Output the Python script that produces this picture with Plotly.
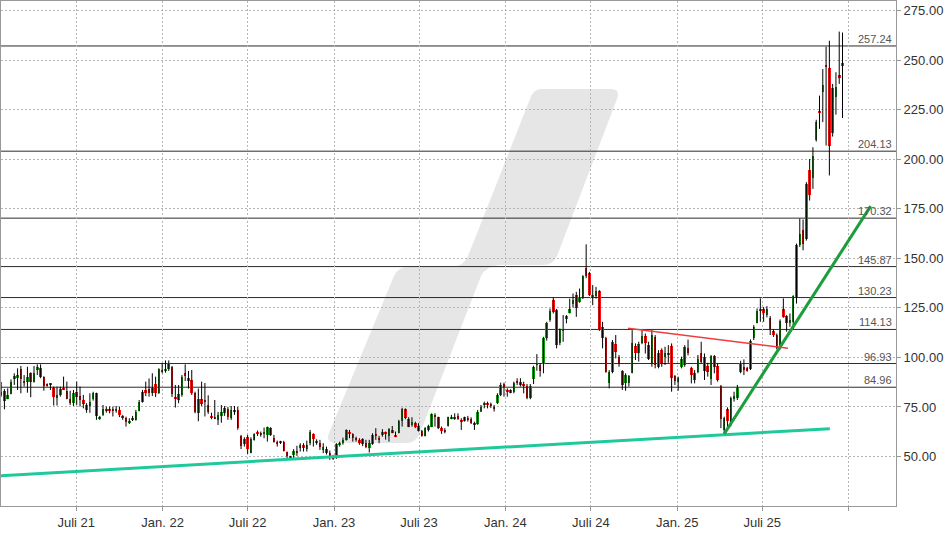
import pandas as pd
import plotly.graph_objects as go

# ---------------- data (weekly candles) ----------------
first_week = "2021-01-22"
open_ = [81.4,83.1,79.2,81.6,88.9,89.5,94.2,88.1,87.8,92.0,87.8,93.8,94.8,90.3,86.4,86.8,84.9,79.4,81.1,84.7,
         83.1,79.2,76.9,82.6,80.5,78.5,73.5,75.7,78.9,81.9,69.0,71.0,74.0,73.8,74.0,72.8,73.5,70.5,69.6,67.1,
         69.6,68.5,73.2,77.7,83.4,84.1,81.9,86.4,81.9,93.7,93.2,94.0,95.3,80.2,78.5,81.1,92.0,88.6,88.6,81.9,
         71.8,78.9,78.5,76.0,70.5,70.1,68.5,70.5,72.0,74.0,69.5,73.5,73.5,60.1,56.2,59.7,52.0,58.4,62.1,61.7,
         61.7,60.9,64.6,59.5,57.5,57.0,57.5,52.2,49.1,50.8,52.8,54.2,55.7,54.0,56.7,61.4,57.0,57.0,53.7,53.7,
         51.7,50.0,50.0,55.9,56.7,58.4,62.6,61.2,59.2,58.4,58.7,57.0,54.2,56.4,61.4,59.5,60.9,62.1,60.4,63.4,
         60.9,62.1,68.0,73.8,68.8,66.0,66.8,65.4,63.1,60.4,63.4,65.1,71.0,69.8,64.3,63.4,65.6,69.3,70.1,70.5,
         68.5,68.1,69.6,68.8,66.8,66.4,72.7,76.0,76.8,76.5,75.2,76.8,81.0,86.6,83.6,83.6,82.7,88.3,87.8,86.6,
         85.6,79.4,88.9,96.2,96.2,96.7,109.6,118.8,128.9,123.9,107.1,113.5,119.2,122.5,126.9,131.4,128.1,130.3,145.2,142.4,
         130.3,131.0,133.5,115.3,109.6,87.3,92.8,106.7,100.0,93.1,87.3,87.3,92.3,105.7,102.0,107.1,110.8,106.2,97.0,110.4,
         95.3,103.7,100.4,101.2,105.7,90.6,87.8,95.3,96.2,105.0,94.8,88.6,92.8,102.4,100.0,95.7,88.9,100.7,95.7,85.6,
         63.4,73.8,65.9,78.9,79.4,92.8,95.0,94.5,94.0,109.6,117.5,123.6,124.4,121.4,120.0,113.3,111.3,104.6,124.7,120.9,
         117.6,118.0,130.6,156.6,164.2,160.0,194.4,190.7,209.8,224.6,233.9,247.8,246.1,213.2,231.7,242.8,247.1]
high = [87.6,84.0,84.4,88.9,92.0,94.5,95.7,91.1,95.3,92.5,95.7,96.5,96.5,90.5,86.9,86.9,85.3,85.3,85.3,90.3,
        87.8,83.2,83.6,87.8,85.3,81.1,76.9,81.9,82.7,82.2,70.5,76.0,75.2,75.2,75.2,75.5,75.2,71.0,70.1,69.3,
        70.5,73.5,78.5,83.6,87.8,89.4,92.0,90.3,94.5,97.0,98.5,98.5,95.7,86.1,86.1,91.1,96.5,93.2,93.7,82.7,
        84.3,87.8,87.1,80.9,72.1,78.5,72.5,76.0,75.5,75.0,75.5,75.5,75.0,60.9,59.7,60.9,59.7,61.7,63.1,62.6,
        64.6,65.1,64.8,60.9,58.0,57.9,57.9,52.5,50.3,53.7,55.4,56.7,56.7,58.0,63.4,61.7,58.7,58.4,56.7,55.0,
        53.0,50.8,56.7,57.5,59.5,63.7,63.4,61.7,60.0,59.2,59.2,58.4,58.4,61.7,64.3,60.4,63.8,62.6,64.3,65.4,
        62.6,68.5,74.6,74.3,69.8,69.8,67.6,66.8,63.4,64.8,66.0,71.8,71.8,70.1,65.1,64.3,70.1,71.0,71.8,71.8,
        69.3,70.1,70.5,69.8,67.6,73.5,76.0,77.7,77.7,77.2,76.0,81.9,87.3,87.3,84.4,83.9,87.8,89.5,89.5,87.8,
        86.6,86.6,95.8,101.7,97.0,110.4,118.0,124.7,130.3,124.5,114.6,121.4,121.4,129.7,132.3,133.1,134.8,141.5,157.1,143.2,
        136.5,135.6,134.0,118.0,110.4,93.6,108.8,111.3,101.2,93.6,92.0,91.1,113.8,107.1,107.9,113.8,112.1,107.9,113.8,111.3,
        103.7,104.6,105.4,106.2,107.1,91.1,90.3,100.4,106.2,109.0,95.3,93.6,101.2,107.9,102.0,97.3,101.2,101.2,97.0,86.1,
        70.1,74.8,80.2,82.7,86.1,98.3,99.0,95.3,109.1,116.3,124.7,129.8,125.5,125.9,120.9,114.1,112.1,119.2,129.8,121.4,
        122.2,131.4,157.5,170.1,169.6,188.5,200.2,206.1,220.0,232.2,245.6,256.9,259.9,238.1,244.0,264.5,264.0]
low = [80.2,73.8,78.9,81.4,86.1,83.6,81.9,85.3,82.2,79.9,87.3,91.1,89.5,83.2,85.3,83.6,75.7,75.7,80.2,83.6,
       78.9,76.0,75.5,76.0,75.2,74.3,72.1,72.1,78.2,68.5,68.5,70.5,72.1,71.8,70.2,72.1,69.9,68.5,65.1,66.4,
       67.9,68.1,72.8,77.2,80.5,80.2,80.5,80.0,81.6,92.0,92.3,93.2,80.0,74.7,76.9,80.2,88.1,84.3,81.1,71.8,
       67.8,75.5,70.2,71.5,68.8,68.8,65.9,67.0,70.5,68.5,68.5,71.0,63.5,53.7,55.0,51.3,51.6,58.0,60.4,60.0,
       59.2,57.5,60.4,57.0,55.0,56.3,52.5,48.6,48.3,49.1,50.3,52.5,52.5,52.5,55.7,55.0,55.9,53.3,51.7,51.0,
       48.3,48.3,48.8,55.0,56.0,58.0,59.2,57.5,57.5,55.9,55.2,54.2,52.0,55.9,58.4,56.7,60.0,58.5,57.5,61.7,
       59.8,61.7,65.1,68.8,64.8,65.1,64.3,62.6,60.0,60.1,62.6,64.8,65.1,63.8,61.4,61.7,65.1,68.8,68.5,68.5,
       63.4,67.6,67.6,66.4,63.4,66.0,72.7,74.3,74.3,74.5,72.7,76.5,80.5,80.2,80.2,81.9,81.9,86.1,85.3,81.9,
       78.9,78.9,86.6,93.3,90.3,92.0,108.5,118.0,122.2,104.6,106.2,107.9,117.2,122.2,125.2,120.5,127.6,129.5,140.0,131.0,
       126.4,129.7,113.4,104.6,92.3,84.4,92.0,99.5,95.3,83.6,83.2,85.3,92.0,98.7,97.9,106.7,102.0,98.7,95.3,94.5,
       94.5,95.3,96.2,97.3,82.7,86.1,83.2,94.5,95.3,101.0,86.9,86.9,92.0,97.0,88.6,90.3,86.1,92.0,87.8,64.3,
       61.4,64.3,65.1,77.7,78.5,92.0,91.1,92.8,93.6,108.8,117.2,118.0,118.0,120.2,111.3,110.4,104.1,104.1,120.0,113.0,
       115.5,114.1,127.2,155.8,154.1,159.0,179.2,185.1,209.0,215.4,218.8,207.0,191.9,211.5,222.6,238.1,220.9]
close = [82.4,78.0,80.9,87.8,90.8,91.1,88.9,87.3,90.3,87.8,92.3,95.0,90.3,85.8,85.6,86.1,79.9,80.9,84.2,83.9,
         79.2,76.9,81.9,80.2,78.5,76.4,76.0,77.7,81.9,70.5,70.1,73.8,73.3,73.0,73.2,74.0,71.0,69.8,67.6,68.1,
         68.8,72.6,77.4,82.7,82.2,81.9,84.7,81.9,94.2,92.8,94.2,97.3,81.6,79.2,81.4,89.9,90.6,89.5,81.9,72.6,
         79.2,76.5,77.7,72.5,69.6,69.3,71.0,72.5,74.5,70.0,73.5,72.5,64.5,55.5,58.7,53.7,58.7,61.4,61.4,61.2,
         62.6,64.8,60.9,57.2,56.7,57.5,53.0,50.0,50.0,52.8,52.0,55.7,54.2,55.7,62.4,58.7,57.9,54.7,54.7,51.7,
         50.0,49.2,56.4,57.0,58.4,63.4,61.7,59.2,58.4,56.7,56.2,55.0,56.7,60.9,60.4,58.4,62.6,61.4,63.8,62.1,
         60.1,68.1,73.8,69.3,65.1,67.6,65.1,63.1,60.4,64.3,65.6,71.5,69.8,64.3,63.1,62.6,69.8,70.1,69.3,68.8,
         67.6,69.8,68.8,67.1,65.9,72.7,75.2,77.2,76.0,75.5,74.3,81.0,86.1,85.3,82.4,82.2,87.3,87.5,86.1,85.6,
         79.4,85.6,95.0,97.0,93.3,109.6,117.2,123.5,123.0,106.2,114.1,114.1,120.9,124.7,128.9,125.2,130.6,141.0,141.0,131.4,
         131.4,133.5,114.1,109.6,92.8,92.8,107.9,102.9,97.0,86.1,91.1,90.6,107.1,102.0,106.7,110.8,107.4,99.0,111.3,96.2,
         102.4,97.3,102.4,102.4,89.4,88.3,89.5,99.2,105.4,102.0,91.1,92.0,99.2,97.9,93.1,92.8,100.7,95.3,88.6,68.8,
         69.3,68.1,79.4,80.5,85.3,97.3,93.6,93.6,108.4,115.5,123.2,124.2,122.2,124.4,114.6,111.1,104.6,118.5,120.5,117.2,
         118.8,130.9,156.6,162.2,157.5,187.7,181.8,201.9,218.7,223.3,237.7,246.5,207.0,236.1,236.7,241.1,248.5]

levels = [257.24, 204.13, 170.32, 145.87, 130.23, 114.13, 96.93, 84.96]

# trend lines (start/end dates and values)
teal_dates, teal_vals = ["2021-01-21", "2025-11-22"], [40.3, 64.0]
green_dates, green_vals = ["2025-04-11", "2026-02-17"], [61.4, 176.4]
red_dates, red_vals = ["2024-09-18", "2025-08-25"], [114.7, 104.6]

tick_dates = ["2021-07-01", "2022-01-01", "2022-07-01", "2023-01-01", "2023-07-01",
              "2024-01-01", "2024-07-01", "2025-01-01", "2025-07-01", "2026-01-01"]
tick_text = ["Juli 21", "Jan. 22", "Juli 22", "Jan. 23", "Juli 23",
             "Jan. 24", "Juli 24", "Jan. 25", "Juli 25", ""]
y_ticks = [50, 75, 100, 125, 150, 175, 200, 225, 250, 275]

# ---------------- figure ----------------
GREEN, RED = "#139913", "#ff0f0f"
dates = pd.date_range(first_week, periods=len(close), freq="7D")

fig = go.Figure()

# wicks (black), drawn first so the bodies cover them
wx, wy = [], []
for d, h, l in zip(dates, high, low):
    wx += [d, d, None]
    wy += [l, h, None]
fig.add_trace(go.Scatter(x=wx, y=wy, mode="lines", line=dict(color="#000000", width=1),
                         hoverinfo="skip", showlegend=False))

# bodies
body_base = [min(o, c) for o, c in zip(open_, close)]
body_len = [max(abs(c - o), 0.8) for o, c in zip(open_, close)]
body_col = [GREEN if c >= o else RED for o, c in zip(open_, close)]
fig.add_trace(go.Bar(x=dates, y=body_len, base=body_base, width=5.4 * 86400000,
                     marker=dict(color=body_col, line=dict(width=0)),
                     hoverinfo="skip", showlegend=False))

fig.add_trace(go.Scatter(x=teal_dates, y=teal_vals, mode="lines",
                         line=dict(color="#1fc99b", width=3), showlegend=False))
fig.add_trace(go.Scatter(x=green_dates, y=green_vals, mode="lines",
                         line=dict(color="#1c9e3c", width=3), showlegend=False))
fig.add_trace(go.Scatter(x=red_dates, y=red_vals, mode="lines",
                         line=dict(color="#f03c3c", width=1.5), showlegend=False))

# plot area in pixels: x 1..896, y 1..506
def pp(x, y):
    return f"{(x - 1) / 895:.5f},{(506 - y) / 505:.5f}"

wm = ("M " + pp(541, 89) + " L " + pp(610, 89) + " Q " + pp(621, 89) + " " + pp(617, 99) +
      " L " + pp(557, 256) + " Q " + pp(553, 265) + " " + pp(543, 265) +
      " L " + pp(500, 265) + " Q " + pp(486, 266) + " " + pp(481, 276) +
      " L " + pp(420, 433) + " Q " + pp(416, 443) + " " + pp(406, 443) +
      " L " + pp(336, 443) + " Q " + pp(325, 443) + " " + pp(329, 433) +
      " L " + pp(394, 276) + " Q " + pp(398, 267) + " " + pp(408, 267) +
      " L " + pp(452, 267) + " Q " + pp(464, 266) + " " + pp(468, 256) +
      " L " + pp(530, 99) + " Q " + pp(533, 89) + " " + pp(541, 89) + " Z")
shapes = [dict(type="path", path=wm, xref="paper", yref="paper",
               fillcolor="#e6e6e6", line=dict(width=0), layer="below")]
annotations = []
for v in levels:
    shapes.append(dict(type="line", xref="paper", x0=0, x1=1, yref="y", y0=v, y1=v,
                       line=dict(color="#2b2b2b", width=1), layer="between"))
    annotations.append(dict(x=1, xref="paper", y=v, yref="y", text=f"{v:.2f}",
                            xanchor="right", yanchor="bottom", xshift=-2, yshift=-1,
                            showarrow=False, font=dict(size=11, color="#555555")))

fig.update_layout(
    width=948, height=534,
    margin=dict(l=1, r=52, t=1, b=28),
    paper_bgcolor="white", plot_bgcolor="white",
    font=dict(family="Liberation Sans, Arial, sans-serif", size=13, color="#333333"),
    shapes=shapes, annotations=annotations,
    showlegend=False, bargap=0,
)
fig.update_xaxes(
    type="date", range=["2021-01-21 17:00", "2026-04-11 22:00"],
    rangeslider=dict(visible=False),
    tickvals=tick_dates, ticktext=tick_text,
    showgrid=True, gridcolor="#b5b5b5", griddash="2px,2px", gridwidth=1,
    showline=True, linecolor="#999999", linewidth=1, mirror=True,
    ticks="outside", ticklen=4, tickcolor="#999999",
    tickfont=dict(size=13, color="#333333"), zeroline=False,
)
fig.update_yaxes(
    side="right", range=[25, 279.95],
    tickvals=y_ticks, tickformat=".2f",
    showgrid=True, gridcolor="#b5b5b5", griddash="2px,2px", gridwidth=1,
    showline=True, linecolor="#999999", linewidth=1, mirror=True,
    ticks="outside", ticklen=4, tickcolor="#999999",
    tickfont=dict(size=13, color="#333333"), zeroline=False,
)

fig.write_html("out.html", config={"displayModeBar": False},
               post_script="document.body.style.margin='0';document.body.style.overflow='hidden';")
